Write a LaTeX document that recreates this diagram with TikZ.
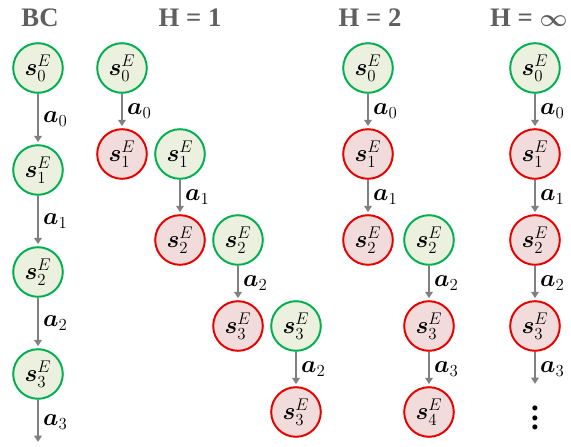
\documentclass[tikz,border=0pt]{standalone}
\usepackage{fontspec}
\setmainfont{Liberation Serif}
\usepackage{bm}
\usetikzlibrary{arrows.meta}
\definecolor{okline}{RGB}{0,176,80}
\definecolor{okfill}{RGB}{235,241,222}
\definecolor{badline}{RGB}{230,0,0}
\definecolor{badfill}{RGB}{242,220,219}
\definecolor{arrgray}{RGB}{128,128,128}
\definecolor{hdr}{RGB}{95,95,95}

\begin{document}
\begin{tikzpicture}[node distance={2.15cm},
		good/.style = {draw=okline, fill=okfill, circle, line width=1.4pt, minimum size=1.24cm, inner sep=0pt, font=\fontsize{16.5}{19}\selectfont},
		bad/.style = {good, draw=badline, fill=badfill},
		act/.style = {draw=arrgray, line width=1.3pt, -{Triangle[width=5.5pt,length=4.5pt]}, shorten >=1.5pt},
		lbl/.style = {right=3pt, inner sep=0pt, font=\fontsize{16.5}{19}\selectfont},
		head/.style = {text=hdr, font=\bfseries\fontsize{19}{22}\selectfont}]
			\useasboundingbox (0,0) rectangle (14.275,-11.175);
			\node[head] (tbc) at (1.0,-0.45) {BC};
			\node[head] (th1) at (4.75,-0.45) {H = 1};
			\node[head] (th2) at (9.25,-0.45) {H = 2};
			\node[head] (thi) at (13.22,-0.45) {H = {\boldmath$\infty$}};
			\node[good] (b0) at (0.95,-1.7) {$\bm{s}_0^E$};
			\node[good] (b1) [below of=b0, node distance=2.55cm] {$\bm{s}_1^E$};
			\node[good] (b2) [below of=b1, node distance=2.55cm] {$\bm{s}_2^E$};
			\node[good] (b3) [below of=b2, node distance=2.55cm] {$\bm{s}_3^E$};
			\coordinate[below of=b3, node distance=1.75cm] (bend);
			\draw[act] (b0) -- node[lbl] {$\bm{a}_0$} (b1);
			\draw[act] (b1) -- node[lbl] {$\bm{a}_1$} (b2);
			\draw[act] (b2) -- node[lbl] {$\bm{a}_2$} (b3);
			\draw[act] (b3) -- node[lbl] {$\bm{a}_3$} (bend);
			\node[good] (p0) at (3.05,-1.7) {$\bm{s}_0^E$};
			\node[bad] (p1) [below of=p0] {$\bm{s}_1^E$};
			\node[good] (q1) [right of=p1, node distance=1.45cm] {$\bm{s}_1^E$};
			\node[bad] (p2) [below of=q1] {$\bm{s}_2^E$};
			\node[good] (q2) [right of=p2, node distance=1.45cm] {$\bm{s}_2^E$};
			\node[bad] (p3) [below of=q2] {$\bm{s}_3^E$};
			\node[good] (q3) [right of=p3, node distance=1.45cm] {$\bm{s}_3^E$};
			\node[bad] (p4) [below of=q3] {$\bm{s}_3^E$};
			\draw[act] (p0) -- node[lbl] {$\bm{a}_0$} (p1);
			\draw[act] (q1) -- node[lbl] {$\bm{a}_1$} (p2);
			\draw[act] (q2) -- node[lbl] {$\bm{a}_2$} (p3);
			\draw[act] (q3) -- node[lbl] {$\bm{a}_2$} (p4);
			\node[good] (r0) at (9.2,-1.7) {$\bm{s}_0^E$};
			\node[bad] (r1) [below of=r0] {$\bm{s}_1^E$};
			\node[bad] (r2) [below of=r1] {$\bm{s}_2^E$};
			\node[good] (t2) [right of=r2, node distance=1.525cm] {$\bm{s}_2^E$};
			\node[bad] (t3) [below of=t2] {$\bm{s}_3^E$};
			\node[bad] (t4) [below of=t3] {$\bm{s}_4^E$};
			\draw[act] (r0) -- node[lbl] {$\bm{a}_0$} (r1);
			\draw[act] (r1) -- node[lbl] {$\bm{a}_1$} (r2);
			\draw[act] (t2) -- node[lbl] {$\bm{a}_2$} (t3);
			\draw[act] (t3) -- node[lbl] {$\bm{a}_3$} (t4);
			\node[good] (i0) at (13.375,-1.7) {$\bm{s}_0^E$};
			\node[bad] (i1) [below of=i0] {$\bm{s}_1^E$};
			\node[bad] (i2) [below of=i1] {$\bm{s}_2^E$};
			\node[bad] (i3) [below of=i2] {$\bm{s}_3^E$};
			\coordinate[below of=i3, node distance=1.5cm] (iend);
			\node[align=center, inner sep=0pt, font=\bfseries\fontsize{22}{6.6}\selectfont] (idots) [below of=i3, node distance=2.3cm] {.\\.\\.};
			\draw[act] (i0) -- node[lbl] {$\bm{a}_0$} (i1);
			\draw[act] (i1) -- node[lbl] {$\bm{a}_1$} (i2);
			\draw[act] (i2) -- node[lbl] {$\bm{a}_2$} (i3);
			\draw[act] (i3) -- node[lbl] {$\bm{a}_3$} (iend);
		\end{tikzpicture}
\end{document}
